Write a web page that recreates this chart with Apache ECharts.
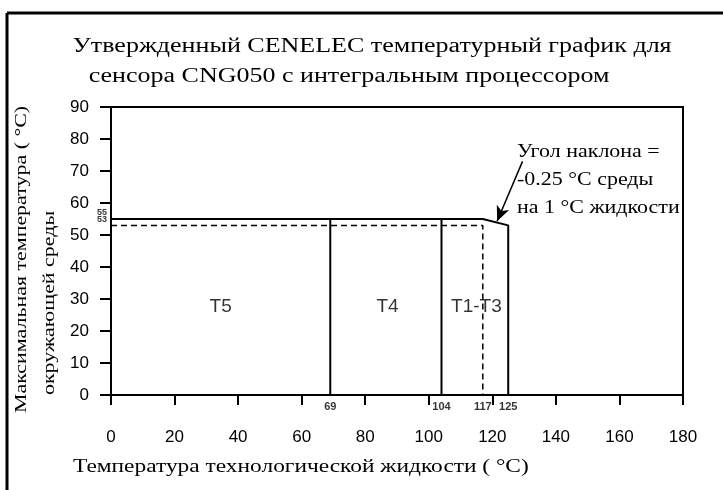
<!DOCTYPE html>
<html>
<head>
<meta charset="utf-8">
<script src="https://cdn.jsdelivr.net/npm/echarts@6/dist/echarts.min.js"></script>
<style>html,body{margin:0;padding:0;background:#fff}#c{width:723px;height:490px}</style>
</head>
<body>
<div id="c"></div>
<script>
// ---- data ----
var xTicks = [0, 20, 40, 60, 80, 100, 120, 140, 160, 180];
var yTicks = [0, 10, 20, 30, 40, 50, 60, 70, 80, 90];
var outline = [[0, 55], [117, 55], [125, 53], [125, 0]];      // solid limit curve
var dashed = [[0, 53], [117, 53], [117, 0]];                   // dashed limit
var divider69 = [[69, 0], [69, 55]];
var divider104 = [[104, 0], [104, 55]];
var xMarks = [69, 104, 117, 125];
var yMarks = [55, 53];
var zoneNames = ['T5', 'T4', 'T1-T3'];
var zoneX = [34.5, 87, 115];
var zoneY = [27.5, 27.5, 27.5];
var arrowFrom = [129.5, 73];
var arrowTo = [121.5, 54.3];
var titleLines = ['Утвержденный CENELEC температурный график для', 'сенсора CNG050 с интегральным процессором'];
var noteLines = ['Угол наклона =', '-0.25 °С среды', 'на 1 °С жидкости'];
var xName = 'Температура технологической жидкости';
var yName1 = 'Максимальная температура';
var yName2 = 'окружающей среды';

var serif = '"Liberation Serif", "DejaVu Serif", serif';
var sans = '"Liberation Sans", Arial, sans-serif';

var chart = echarts.init(document.getElementById('c'));
var zoneData = zoneNames.map(function (n, i) { return { value: [zoneX[i], zoneY[i]], name: n }; });

chart.setOption({
  animation: false,
  backgroundColor: '#fff',
  grid: { left: 111, top: 107, right: 40, bottom: 95, show: true, borderColor: '#000', borderWidth: 2, containLabel: false },
  xAxis: {
    type: 'value', min: 0, max: 180, interval: 20,
    axisLine: { lineStyle: { color: '#000', width: 2 } },
    axisTick: { length: 10, lineStyle: { color: '#000', width: 2 } },
    axisLabel: { color: '#000', fontFamily: sans, fontSize: 17, margin: 34,
      formatter: function (v) { return xTicks.indexOf(v) >= 0 ? String(v) : ''; } },
    splitLine: { show: false }
  },
  yAxis: {
    type: 'value', min: 0, max: 90, interval: 10,
    axisLine: { lineStyle: { color: '#000', width: 2 } },
    axisTick: { length: 11, lineStyle: { color: '#000', width: 2 } },
    axisLabel: { color: '#000', fontFamily: sans, fontSize: 17, margin: 22,
      formatter: function (v) { return yTicks.indexOf(v) >= 0 ? String(v) : ''; } },
    splitLine: { show: false }
  },
  series: [
    { type: 'line', data: outline, symbol: 'none', lineStyle: { color: '#000', width: 2 },
      markLine: { silent: true, symbol: ['none', 'arrow'], symbolSize: [10, 15], label: { show: false },
        lineStyle: { color: '#000', width: 1.5, type: 'solid' },
        data: [[{ coord: arrowFrom }, { coord: arrowTo }]] } },
    { type: 'line', data: dashed, symbol: 'none', lineStyle: { color: '#000', width: 1.5, type: [6, 4] } },
    { type: 'line', data: divider69, symbol: 'none', lineStyle: { color: '#000', width: 2 } },
    { type: 'line', data: divider104, symbol: 'none', lineStyle: { color: '#000', width: 2 } },
    { type: 'scatter', symbolSize: 0, data: zoneData,
      label: { show: true, position: 'inside', color: '#000', fontFamily: sans, fontSize: 19,
        formatter: function (p) { return p.name; } } },
    { type: 'scatter', symbolSize: 0, clip: false, data: xMarks.map(function (v) { return [v, 0]; }),
      label: { show: true, position: 'bottom', distance: 6, color: '#000', fontFamily: sans, fontSize: 11, fontWeight: 'bold',
        formatter: function (p) { return String(p.value[0]); } } },
    { type: 'scatter', symbolSize: 0, clip: false, data: yMarks.map(function (v) { return [0, v]; }),
      label: { show: true, position: 'left', distance: 4, offset: [0, -6], color: '#000', fontFamily: sans, fontSize: 9, fontWeight: 'bold',
        formatter: function (p) { return String(p.value[1]); } } }
  ],
  graphic: [
    { type: 'line', shape: { x1: 7, y1: 13, x2: 723, y2: 13 }, style: { stroke: '#000', lineWidth: 3 } },
    { type: 'line', shape: { x1: 7, y1: 13, x2: 7, y2: 490 }, style: { stroke: '#000', lineWidth: 3 } },
    { type: 'text', x: 372, y: 47, scaleX: 1.3, style: { text: titleLines[0], font: '20px ' + serif, fill: '#000', textAlign: 'center', textVerticalAlign: 'middle' } },
    { type: 'text', x: 349, y: 77, scaleX: 1.3, style: { text: titleLines[1], font: '20px ' + serif, fill: '#000', textAlign: 'center', textVerticalAlign: 'middle' } },
    { type: 'text', x: 517, y: 152, scaleX: 1.22, style: { text: noteLines[0], font: '18px ' + serif, fill: '#000', textVerticalAlign: 'middle' } },
    { type: 'text', x: 517, y: 180, scaleX: 1.22, style: { text: noteLines[1], font: '18px ' + serif, fill: '#000', textVerticalAlign: 'middle' } },
    { type: 'text', x: 517, y: 208, scaleX: 1.22, style: { text: noteLines[2], font: '18px ' + serif, fill: '#000', textVerticalAlign: 'middle' } },
    { type: 'text', x: 73, y: 467, scaleX: 1.3, style: { text: xName + ' ( °C)', font: '18px ' + serif, fill: '#000', textVerticalAlign: 'middle' } },
    { type: 'text', x: 22, y: 413, rotation: Math.PI / 2, scaleX: 1.29, style: { text: yName1 + ' ( °C)', font: '17px ' + serif, fill: '#000', textVerticalAlign: 'middle' } },
    { type: 'text', x: 50, y: 395, rotation: Math.PI / 2, scaleX: 1.29, style: { text: yName2, font: '17px ' + serif, fill: '#000', textVerticalAlign: 'middle' } }
  ]
});
</script>
</body>
</html>
